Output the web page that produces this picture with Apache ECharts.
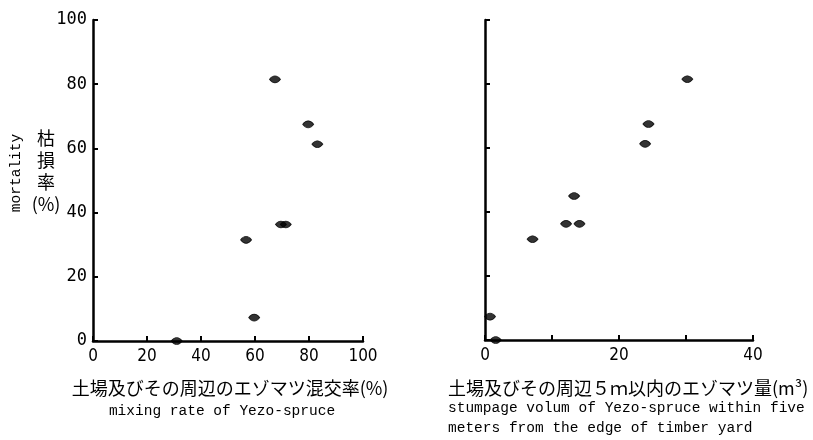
<!DOCTYPE html>
<html><head><meta charset="utf-8">
<script src="https://cdn.jsdelivr.net/npm/echarts@6/dist/echarts.min.js"></script>
<style>html,body{margin:0;padding:0;background:#fff}#c{width:813px;height:440px}</style>
</head><body><div id="c"></div>
<script>
// Left panel: mixing rate (%) vs mortality (%)
const leftX = [67.4, 79.7, 83.1, 69.6, 71.4, 56.7, 59.7, 31];
const leftY = [81.5, 67.5, 61.3, 36.3, 36.3, 31.5, 7.3, 0];
// Right panel: stumpage volume (m3) vs mortality (%)
const rightX = [30.2, 24.4, 23.9, 13.3, 12.1, 14.1, 7.1, 0.75, 1.6];
const rightY = [81.5, 67.5, 61.3, 45, 36.3, 36.3, 31.5, 7.3, 0];
const leftXTicks = ['0', '20', '40', '60', '80', '100'];
const rightXTicks = ['0', '20', '40'];
const yTicks = ['0', '20', '40', '60', '80', '100'];

const mono = '"Liberation Mono", "DejaVu Sans Mono", monospace';
const narrow = '"Liberation Sans Narrow", "DejaVu Sans Condensed", "Liberation Mono", monospace';
const jp = '"Noto Sans CJK JP", sans-serif';
const marker = 'path://M0,3 C3,-0.4 7,-0.4 10,3 C7,6.4 3,6.4 0,3 Z';
const axisLine = { show: true, onZero: false, lineStyle: { color: '#000', width: 2.5 } };
const tick = { show: true, inside: true, length: 5, lineStyle: { color: '#000', width: 2 } };

const chart = echarts.init(document.getElementById('c'), null, { renderer: 'canvas' });
chart.setOption({
  backgroundColor: '#fff',
  animation: false,
  grid: [
    { left: 93, right: 450, top: 20, bottom: 99 },
    { left: 485, right: 60, top: 20, bottom: 100 }
  ],
  xAxis: [
    { gridIndex: 0, type: 'value', min: 0, max: 100, interval: 20,
      axisLine, axisTick: tick, splitLine: { show: false },
      axisLabel: { margin: 7, color: '#000', fontFamily: narrow, fontSize: 17,
        formatter: v => leftXTicks[Math.round(v / 20)] } },
    { gridIndex: 1, type: 'value', min: 0, max: 40, interval: 10,
      axisLine, axisTick: tick, splitLine: { show: false },
      axisLabel: { margin: 7, color: '#000', fontFamily: narrow, fontSize: 17,
        formatter: v => (v % 20 === 0 ? rightXTicks[v / 20] : '') } }
  ],
  yAxis: [
    { gridIndex: 0, type: 'value', min: 0, max: 100, interval: 20,
      axisLine, axisTick: tick, splitLine: { show: false },
      axisLabel: { margin: 6, color: '#000', fontFamily: '"DejaVu Sans Mono", monospace', fontSize: 17,
        formatter: v => yTicks[Math.round(v / 20)] } },
    { gridIndex: 1, type: 'value', min: 0, max: 100, interval: 20,
      axisLine, axisTick: tick, splitLine: { show: false },
      axisLabel: { show: false } }
  ],
  series: [
    { type: 'scatter', xAxisIndex: 0, yAxisIndex: 0, clip: false,
      symbol: marker, symbolSize: [11, 7],
      itemStyle: { color: '#000', borderColor: '#000', borderWidth: 0.8 },
      data: leftX.map((x, i) => [x, leftY[i]]) },
    { type: 'scatter', xAxisIndex: 1, yAxisIndex: 1, clip: false,
      symbol: marker, symbolSize: [11, 7],
      itemStyle: { color: '#000', borderColor: '#000', borderWidth: 0.8 },
      data: rightX.map((x, i) => [x, rightY[i]]) }
  ],
  graphic: [
    { type: 'text', x: 16, y: 173, rotation: Math.PI / 2,
      style: { text: 'mortality', fill: '#000', font: '14.5px ' + mono, textAlign: 'center', textVerticalAlign: 'middle' } },
    { type: 'text', x: 46, y: 171,
      style: { text: '枯\n損\n率\n(%)', fill: '#000', font: '18px ' + jp, lineHeight: 22, textAlign: 'center', textVerticalAlign: 'middle' } },
    { type: 'text', x: 230, y: 388,
      style: { text: '土場及びその周辺のエゾマツ混交率(%)', fill: '#000', font: '18px ' + jp, textAlign: 'center', textVerticalAlign: 'middle' } },
    { type: 'text', x: 222, y: 411,
      style: { text: 'mixing rate of Yezo-spruce', fill: '#000', font: '14.5px ' + mono, textAlign: 'center', textVerticalAlign: 'middle' } },
    { type: 'text', x: 448, y: 388,
      style: { text: '土場及びその周辺５ｍ以内のエゾマツ量(m³)', fill: '#000', font: '18px ' + jp, textAlign: 'left', textVerticalAlign: 'middle' } },
    { type: 'text', x: 448, y: 408,
      style: { text: 'stumpage volum of Yezo-spruce within five', fill: '#000', font: '14.5px ' + mono, textAlign: 'left', textVerticalAlign: 'middle' } },
    { type: 'text', x: 448, y: 428,
      style: { text: 'meters from the edge of timber yard', fill: '#000', font: '14.5px ' + mono, textAlign: 'left', textVerticalAlign: 'middle' } }
  ]
});
</script></body></html>
